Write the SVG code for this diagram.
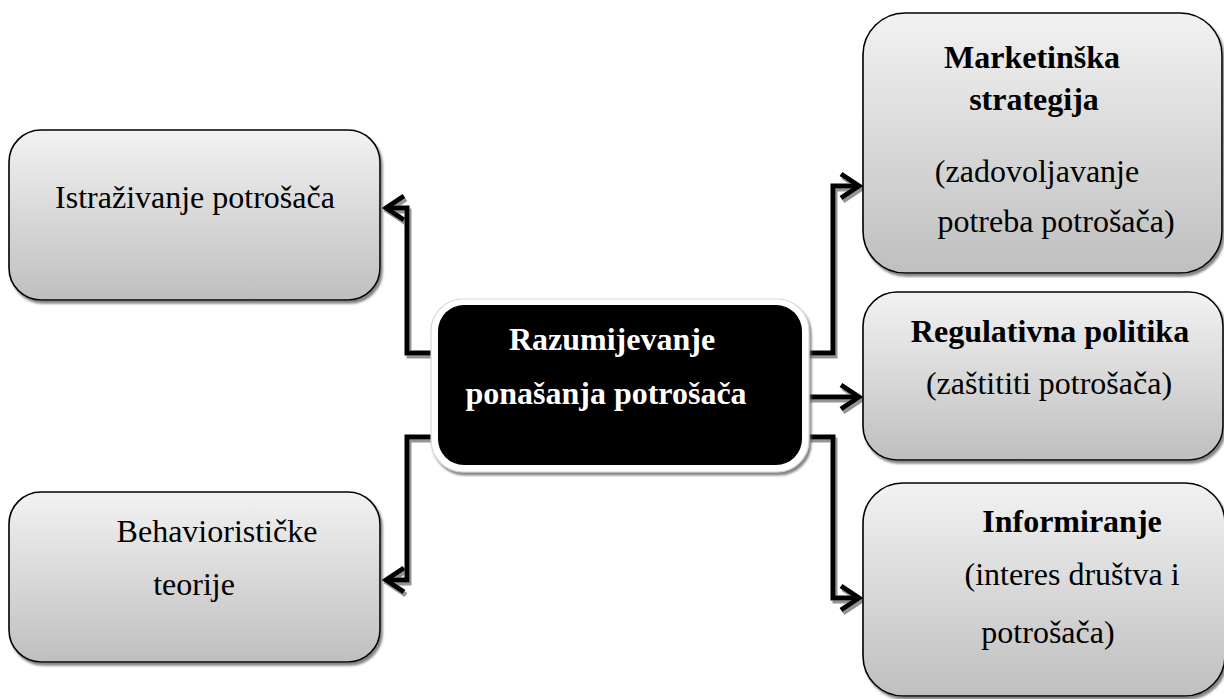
<svg xmlns="http://www.w3.org/2000/svg" width="1224" height="699" viewBox="0 0 1224 699">
<defs>
<linearGradient id="g" x1="0" y1="0" x2="0" y2="1">
<stop offset="0" stop-color="#f2f2f2"/>
<stop offset="1" stop-color="#bfbfbf"/>
</linearGradient>
<filter id="sh" x="-10%" y="-10%" width="120%" height="125%">
<feDropShadow dx="2" dy="3" stdDeviation="0.8" flood-color="#666" flood-opacity="0.8"/>
</filter>
<filter id="lsh" x="-10%" y="-10%" width="130%" height="130%">
<feDropShadow dx="2" dy="3" stdDeviation="0.4" flood-color="#888" flood-opacity="0.9"/>
</filter>
<marker id="ah" markerUnits="userSpaceOnUse" markerWidth="30" markerHeight="30" refX="22" refY="15" orient="auto" viewBox="0 0 30 30">
<polyline points="4,3 22,15 4,27" fill="none" stroke="#000" stroke-width="5" stroke-linejoin="miter"/>
</marker>
</defs>
<style>
.box{fill:url(#g);stroke:#000;stroke-width:1.6;filter:url(#sh)}
.t{font-family:"Liberation Serif","Times New Roman",serif;font-size:32px;fill:#000;text-anchor:middle}
.b{font-weight:bold}
.w{fill:#fff}
.c{fill:none;stroke:#000;stroke-width:5;stroke-linejoin:miter}
</style>

<g id="connectors" filter="url(#lsh)">
<path class="c" d="M438,353 H407 V208 H386" marker-end="url(#ah)"/>
<path class="c" d="M438,437 H407 V580 H386" marker-end="url(#ah)"/>
<path class="c" d="M802,353 H833 V186 H859" marker-end="url(#ah)"/>
<path class="c" d="M802,397 H859" marker-end="url(#ah)"/>
<path class="c" d="M802,437 H833 V598 H859" marker-end="url(#ah)"/>
</g>

<g id="center">
<rect x="431" y="299" width="378" height="173" rx="32" fill="#fff" stroke="#d6d6d6" stroke-width="1.2" filter="url(#sh)"/>
<rect x="438" y="305" width="364" height="160" rx="26" fill="#000"/>
<text class="t b w" x="612" y="350">Razumijevanje</text>
<text class="t b w" x="606" y="404">ponašanja potrošača</text>
</g>

<g id="istrazivanje">
<rect class="box" x="9" y="130" width="371" height="170" rx="32"/>
<text class="t" x="195" y="208">Istraživanje potrošača</text>
</g>

<g id="behavioristicke">
<rect class="box" x="9" y="492" width="371" height="170" rx="32"/>
<text class="t" x="217" y="542">Behaviorističke</text>
<text class="t" x="194" y="595">teorije</text>
</g>

<g id="marketinska">
<rect class="box" x="863" y="13" width="359" height="260" rx="42"/>
<text class="t b" x="1032" y="68">Marketinška</text>
<text class="t b" x="1034" y="110">strategija</text>
<text class="t" x="1037" y="182">(zadovoljavanje</text>
<text class="t" x="1056" y="232">potreba potrošača)</text>
</g>

<g id="regulativna">
<rect class="box" x="863" y="292" width="360" height="168" rx="34"/>
<text class="t b" x="1050" y="342">Regulativna politika</text>
<text class="t" x="1049" y="394">(zaštititi potrošača)</text>
</g>

<g id="informiranje">
<rect class="box" x="863" y="483" width="362" height="213" rx="40"/>
<text class="t b" x="1072" y="532">Informiranje</text>
<text class="t" x="1072" y="585">(interes društva i</text>
<text class="t" x="1048" y="643">potrošača)</text>
</g>
</svg>
